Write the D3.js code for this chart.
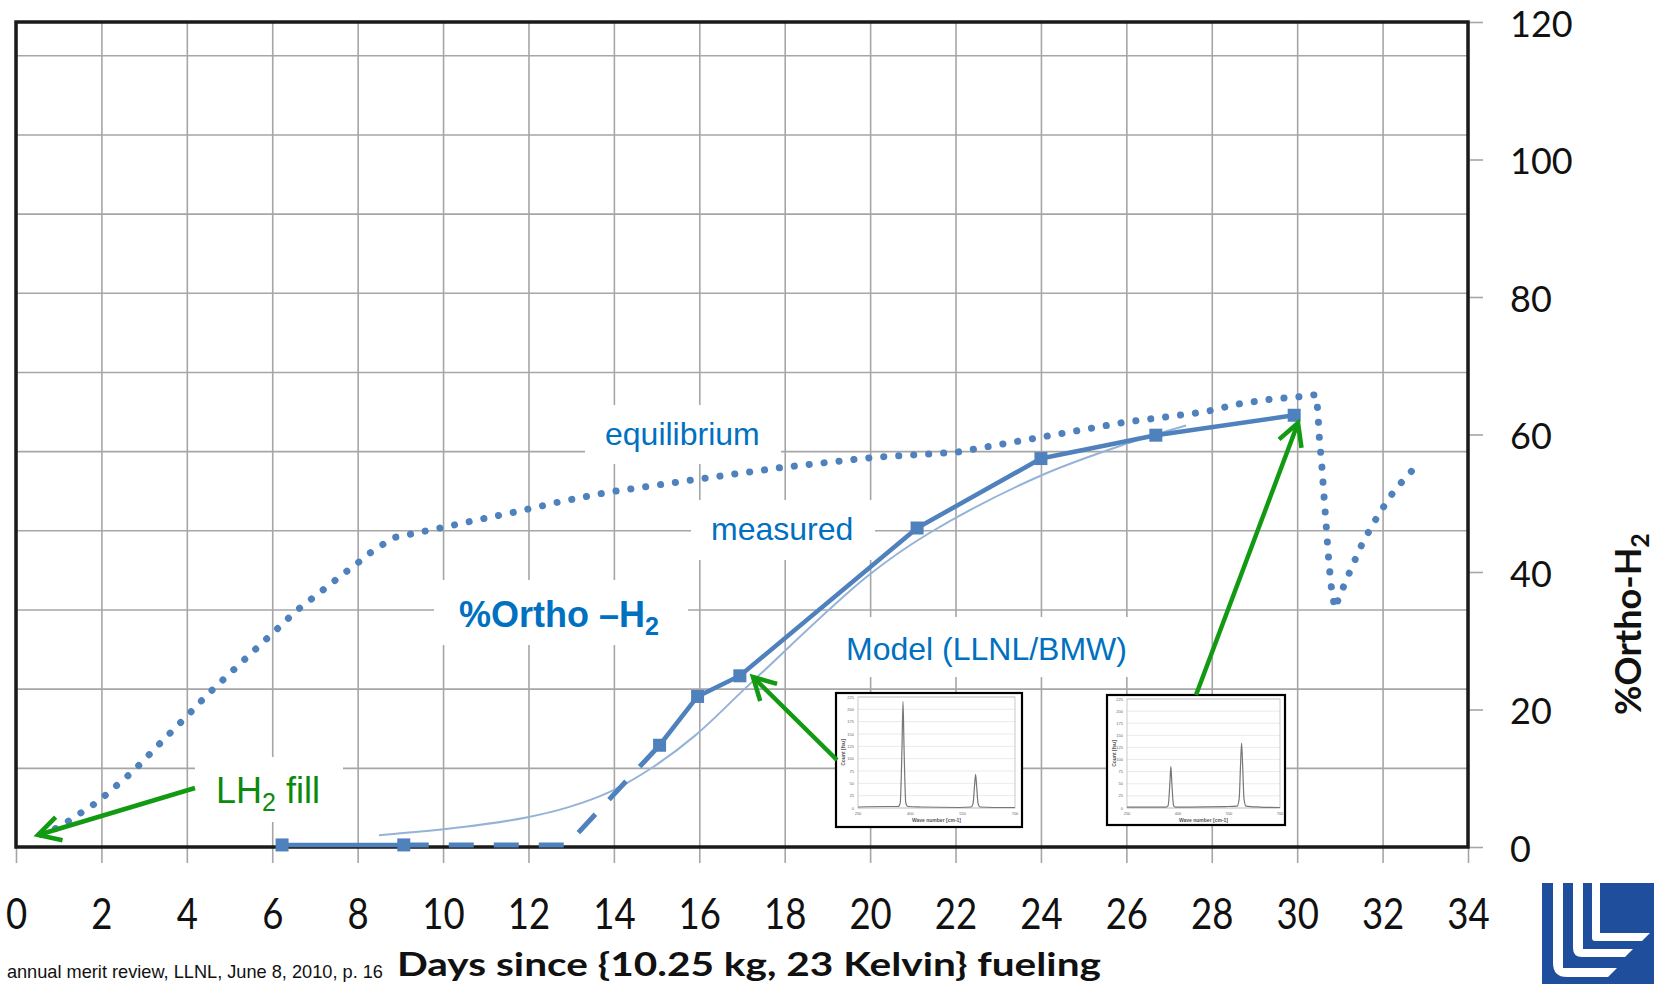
<!DOCTYPE html>
<html>
<head>
<meta charset="utf-8">
<script src="https://cdn.jsdelivr.net/npm/d3@7"></script>
<style>
body{margin:0;background:#fff;}
svg{display:block;}
</style>
</head>
<body>
<svg width="1654" height="984"></svg>
<script>
// values (days, %ortho)
let xTicks = [0,2,4,6,8,10,12,14,16,18,20,22,24,26,28,30,32,34];
let yTicks = [0,20,40,60,80,100,120];

let measuredDays = [6.23, 9.08, 15.07, 15.96, 16.95, 21.1, 24.0, 26.69, 29.93];
let measuredVals = [0.3, 0.3, 14.8, 21.9, 24.9, 46.4, 56.5, 59.9, 62.8];

let gapDays = [9.08, 12.9, 15.07];
let gapVals = [0.3, 0.3, 14.8];

let modelDays = [8.5, 10.47, 11.95, 12.94, 13.93, 14.91, 15.9, 17.2, 19.92, 21.37, 23.99, 25.98, 27.4];
let modelVals = [1.7, 2.9, 4.3, 5.8, 8.1, 11.6, 16.2, 23.8, 39.3, 45.6, 54.0, 58.6, 61.3];

let eqDays = [0.6, 1.04, 1.92, 2.74, 3.47, 3.98, 4.47, 4.98, 5.77, 6.03, 6.55, 7.11, 7.68, 7.96, 8.25, 8.83,
  9.55, 9.93, 10.67, 11.74, 12.8, 13.53, 13.86, 15.74, 17.93, 20.13, 22.0, 23.99, 25.98, 27.85, 28.59,
  29.33, 30.07, 30.44, 30.48, 30.52, 30.58, 30.63, 30.68, 30.73, 30.79, 30.88, 31.0, 31.27, 31.55,
  31.9, 32.28, 32.77];
let eqVals = [1.8, 3.0, 6.6, 11.0, 15.7, 18.9, 22.1, 25.1, 29.7, 31.2, 34.3, 37.0, 39.8, 41.1, 42.6, 45.0,
  45.9, 46.4, 47.4, 48.8, 50.3, 51.2, 51.6, 53.3, 55.2, 56.7, 57.4, 59.6, 61.8, 63.3, 64.4,
  65.1, 65.5, 65.8, 63.6, 59.4, 55.2, 50.9, 46.7, 42.4, 38.2, 34.7, 36.6, 40.6, 44.5,
  48.3, 51.9, 55.3];

// raman spectra in the two small insets
let specWave = [250, 330, 365, 371, 376, 379, 382, 387, 393, 430, 540, 574, 580, 584, 587, 590, 594, 600, 640, 700];
let specBefore = [2, 3, 3, 10, 120, 216, 120, 10, 3, 2, 1, 2, 10, 45, 68, 45, 10, 2, 1, 1];
let specAfter = [2, 2, 2, 5, 50, 86, 50, 5, 2, 2, 3, 4, 20, 90, 134, 90, 20, 4, 2, 1];
let specYTicks = [0,25,50,75,100,125,150,175,200,225];
let specXTicks = [250,400,550,700];

const blue = '#4f81bd';
const txtBlue = '#0070c0';
const green = '#129a12';

let svg = d3.select('svg');
let x = d3.scaleLinear().domain([0,34]).range([16,1468]);
let y = d3.scaleLinear().domain([0,120]).range([847,22]);
let yGrid = d3.scaleLinear().domain([0,10.42]).range([847,22]);

// vertical grid + day labels
let xAxis = d3.axisBottom(x).tickValues(xTicks).tickSize(-(863-22)).tickPadding(36);
svg.append('g').attr('transform','translate(0,863)').call(xAxis)
  .call(g=>g.select('.domain').remove())
  .call(g=>g.selectAll('line').attr('stroke','#a6a6a6').attr('stroke-width',1.6))
  .call(g=>g.selectAll('text').attr('font-family','Lato').attr('font-size',42)
    .attr('fill','#111').attr('transform','scale(0.87,1)'));

// horizontal grid (hidden primary axis)
let gridAxis = d3.axisLeft(yGrid).tickValues(d3.range(1,11)).tickSize(-(1468-16)).tickFormat('');
svg.append('g').attr('transform','translate(16,0)').call(gridAxis)
  .call(g=>g.select('.domain').remove())
  .call(g=>g.selectAll('line').attr('stroke','#a6a6a6').attr('stroke-width',1.6));

// right axis
let yAxis = d3.axisRight(y).tickValues(yTicks).tickSize(15).tickPadding(27);
svg.append('g').attr('transform','translate(1468,0)').call(yAxis)
  .call(g=>g.select('.domain').remove())
  .call(g=>g.selectAll('line').attr('stroke','#a6a6a6').attr('stroke-width',1.6))
  .call(g=>g.selectAll('text').attr('font-family','Lato').attr('font-size',36)
    .attr('dy','0.4em').attr('fill','#111'));

// white label boxes that knock out the grid
let boxes = [
  {x0:585, y0:405, x1:781, y1:464},
  {x0:691, y0:500, x1:875, y1:560},
  {x0:434, y0:580, x1:688, y1:645},
  {x0:826, y0:617, x1:1145, y1:677},
  {x0:195, y0:757, x1:343, y1:822}
];
svg.append('g').selectAll('rect').data(boxes).enter().append('rect')
  .attr('x',d=>d.x0).attr('y',d=>d.y0)
  .attr('width',d=>d.x1-d.x0).attr('height',d=>d.y1-d.y0)
  .attr('fill','#fff');

// frame
svg.append('rect').attr('x',16).attr('y',22).attr('width',1468-16).attr('height',847-22)
  .attr('fill','none').attr('stroke','#1a1a1a').attr('stroke-width',3.5);

let line = d3.line().x(d=>x(d[0])).y(d=>y(d[1]));
let zip = (a,b)=>a.map((v,i)=>[v,b[i]]);

// equilibrium (round dots)
svg.append('path').datum(zip(eqDays,eqVals)).attr('d',line)
  .attr('fill','none').attr('stroke',blue).attr('stroke-width',7)
  .attr('stroke-linecap','round').attr('stroke-dasharray','0.1,14.9');

// model
svg.append('path').datum(zip(modelDays,modelVals))
  .attr('d',d3.line().x(d=>x(d[0])).y(d=>y(d[1])).curve(d3.curveCatmullRom))
  .attr('fill','none').attr('stroke','#95b3d7').attr('stroke-width',2);

// measured
let meas = zip(measuredDays,measuredVals);
svg.append('path').datum(zip(gapDays,gapVals)).attr('d',line)
  .attr('fill','none').attr('stroke',blue).attr('stroke-width',5).attr('stroke-dasharray','25,20');
[meas.slice(0,2), meas.slice(2)].forEach(seg=>{
  svg.append('path').datum(seg).attr('d',line)
    .attr('fill','none').attr('stroke',blue).attr('stroke-width',4.5).attr('stroke-linejoin','round');
});
svg.append('g').selectAll('rect').data(meas).enter().append('rect')
  .attr('x',d=>x(d[0])-6.5).attr('y',d=>y(d[1])-6.5)
  .attr('width',13).attr('height',13).attr('fill',blue);

// insets
function drawInset(box, inner, vals){
  let g = svg.append('g');
  g.append('rect').attr('x',box[0]).attr('y',box[1]).attr('width',box[2]-box[0]).attr('height',box[3]-box[1])
    .attr('fill','#fff').attr('stroke','#000').attr('stroke-width',2.2);
  let sx = d3.scaleLinear().domain([250,700]).range([inner[0],inner[2]]);
  let sy = d3.scaleLinear().domain([0,225]).range([inner[3],inner[1]]);
  g.selectAll('.hg').data(specYTicks).enter().append('line')
    .attr('x1',inner[0]).attr('x2',inner[2]).attr('y1',d=>sy(d)).attr('y2',d=>sy(d))
    .attr('stroke','#e4e4e4').attr('stroke-width',0.8);
  g.append('rect').attr('x',inner[0]).attr('y',inner[1]).attr('width',inner[2]-inner[0]).attr('height',inner[3]-inner[1])
    .attr('fill','none').attr('stroke','#bbb').attr('stroke-width',0.8);
  g.append('path').datum(zip(specWave,vals))
    .attr('d',d3.line().x(d=>sx(d[0])).y(d=>sy(d[1])).curve(d3.curveMonotoneX))
    .attr('fill','none').attr('stroke','#777').attr('stroke-width',1.2);
  g.selectAll('.yl').data(specYTicks).enter().append('text')
    .attr('x',inner[0]-4).attr('y',d=>sy(d)+1.5).attr('text-anchor','end')
    .attr('font-family','Liberation Sans').attr('font-size',4).attr('fill','#666').text(d=>d);
  g.selectAll('.xl').data(specXTicks).enter().append('text')
    .attr('x',d=>sx(d)).attr('y',inner[3]+7).attr('text-anchor','middle')
    .attr('font-family','Liberation Sans').attr('font-size',4).attr('fill','#666').text(d=>d);
  g.append('text').attr('x',(inner[0]+inner[2])/2).attr('y',inner[3]+14).attr('text-anchor','middle')
    .attr('font-family','Liberation Sans').attr('font-size',5).attr('font-weight','bold').attr('fill','#555')
    .text('Wave number [cm-1]');
  g.append('text').attr('transform',`translate(${box[0]+9},${(inner[1]+inner[3])/2}) rotate(-90)`)
    .attr('text-anchor','middle')
    .attr('font-family','Liberation Sans').attr('font-size',5).attr('font-weight','bold').attr('fill','#555')
    .text('Count [fsu]');
}
drawInset([836,693,1022,827],[858,697,1015,808],specBefore);
drawInset([1107,695,1285,825],[1127,699,1280,808],specAfter);

// green arrows
svg.append('defs').append('marker').attr('id','head')
  .attr('markerUnits','userSpaceOnUse').attr('markerWidth',40).attr('markerHeight',40)
  .attr('viewBox','-30 -20 40 40').attr('refX',0).attr('refY',0).attr('orient','auto')
  .append('path').attr('d','M-22,-12 L0,0 L-22,12')
  .attr('fill','none').attr('stroke',green).attr('stroke-width',4.5);
let arrows = [[195,788,38,835],[837,760,753,677],[1196,695,1298,423]];
svg.append('g').selectAll('line').data(arrows).enter().append('line')
  .attr('x1',d=>d[0]).attr('y1',d=>d[1]).attr('x2',d=>d[2]).attr('y2',d=>d[3])
  .attr('stroke',green).attr('stroke-width',4.5).attr('marker-end','url(#head)');

// annotations
let lab = svg.append('g').attr('font-family','Liberation Sans, Arial, sans-serif').attr('fill',txtBlue);
lab.append('text').attr('x',605).attr('y',445).attr('font-size',32).text('equilibrium');
lab.append('text').attr('x',711).attr('y',540).attr('font-size',32).text('measured');
lab.append('text').attr('x',846).attr('y',660).attr('font-size',32).text('Model (LLNL/BMW)');
let ortho = lab.append('text').attr('x',459).attr('y',627).attr('font-size',36).attr('font-weight','bold');
ortho.append('tspan').text('%Ortho \u2013H');
ortho.append('tspan').attr('font-size',25).attr('dy',8).text('2');
let fill = svg.append('text').attr('x',216).attr('y',803).attr('font-family','Liberation Sans, Arial, sans-serif')
  .attr('font-size',36).attr('fill','#0b8a0b');
fill.append('tspan').text('LH');
fill.append('tspan').attr('font-size',25).attr('dy',8).text('2');
fill.append('tspan').attr('dy',-8).text(' fill');

// axis titles
let rt = svg.append('text').attr('transform','translate(1641,624) rotate(-90)').attr('text-anchor','middle')
  .attr('font-family','Lato').attr('font-weight','bold').attr('font-size',36).attr('fill','#111');
rt.append('tspan').text('%Ortho-H');
rt.append('tspan').attr('font-size',25).attr('dy',8).text('2');

svg.append('text').attr('x',397).attr('y',976).attr('font-family','Lato').attr('font-weight','bold')
  .attr('font-size',33).attr('fill','#111').attr('textLength',704).attr('lengthAdjust','spacingAndGlyphs')
  .text('Days since {10.25 kg, 23 Kelvin} fueling');

svg.append('text').attr('x',383).attr('y',978).attr('text-anchor','end')
  .attr('font-family','Liberation Sans, Arial, sans-serif').attr('font-size',18.2).attr('fill','#111')
  .text('annual merit review, LLNL, June 8, 2010, p. 16');

// LLNL logo
let logo = svg.append('g');
logo.append('rect').attr('x',1542).attr('y',883).attr('width',112).attr('height',101).attr('fill','#1f4e9c');
let stripes = [
  {x0:1553, x1:1563, y0:968, y1:977, xe:1617, r:14},
  {x0:1573, x1:1583, y0:949, y1:957, xe:1633, r:9},
  {x0:1592, x1:1600, y0:933, y1:941, xe:1650, r:3}
];
logo.selectAll('path').data(stripes).enter().append('path')
  .attr('d',s=>`M${s.x0},883 L${s.x1},883 L${s.x1},${s.y0} L${s.xe},${s.y0} L${s.xe-(s.y1-s.y0)},${s.y1}`
    +` L${s.x0+s.r},${s.y1} Q${s.x0},${s.y1} ${s.x0},${s.y1-s.r} Z`)
  .attr('fill','#fff');
</script>
</body>
</html>
